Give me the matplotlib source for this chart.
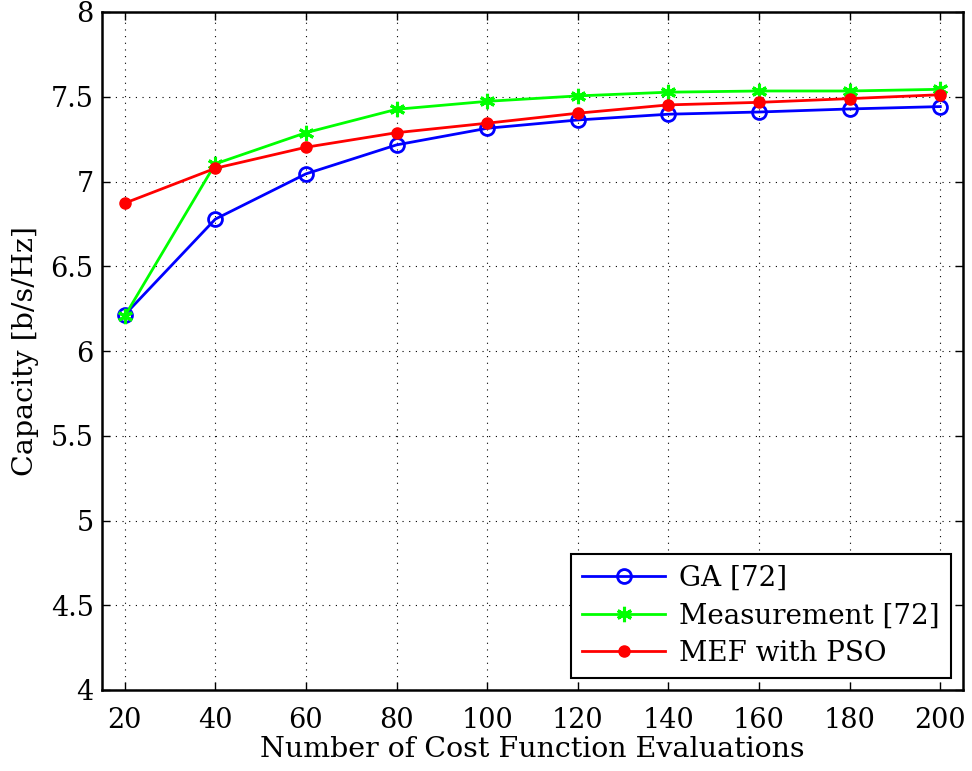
import matplotlib
matplotlib.use("Agg")
import matplotlib.pyplot as plt

evals = [20, 40, 60, 80, 100, 120, 140, 160, 180, 200]
ga = [6.213, 6.778, 7.045, 7.216, 7.314, 7.363, 7.397, 7.410, 7.428, 7.442]
measurement = [6.205, 7.104, 7.288, 7.426, 7.473, 7.505, 7.527, 7.534, 7.534, 7.544]
mef_pso = [6.872, 7.078, 7.202, 7.288, 7.344, 7.403, 7.452, 7.467, 7.489, 7.512]
xticks = [20, 40, 60, 80, 100, 120, 140, 160, 180, 200]
yticks = [4, 4.5, 5, 5.5, 6, 6.5, 7, 7.5, 8]
ytick_labels = ["4", "4.5", "5", "5.5", "6", "6.5", "7", "7.5", "8"]

plt.rcParams['font.family'] = ['DejaVu Serif']
plt.rcParams['mathtext.fontset'] = 'dejavuserif'

fig = plt.figure(figsize=(9.72, 7.71), dpi=100)
ax = fig.add_axes([102/972, 1 - 690/771, (963-102)/972, (690-12)/771])

ax.plot(evals, ga, color='#0000ff', lw=2, marker='o', ms=10, mfc='none', mec='#0000ff', mew=2, label='GA [72]')
ax.plot(evals, measurement, color='#00ff00', lw=2, marker=(6, 2, 0), ms=11, mec='#00ff00', mew=2.2, label='Measurement [72]')
ax.plot(evals, mef_pso, color='#ff0000', lw=2, marker='o', ms=8, mfc='#ff0000', mec='#ff0000', label='MEF with PSO')

ax.set_xlim(15, 205)
ax.set_ylim(4, 8)
ax.set_xticks(xticks)
ax.set_yticks(yticks)
ax.set_yticklabels(ytick_labels)
ax.tick_params(direction='in', length=6, width=1, labelsize=19.5, top=True, right=True)
ax.tick_params(axis='x', pad=12)
ax.tick_params(axis='y', pad=6)
ax.grid(True, color='black', linestyle=(0, (1, 5)), linewidth=0.8)
for s in ax.spines.values():
    s.set_linewidth(1.8)

ax.set_xlabel('Number of Cost Function Evaluations', fontsize=20.5, labelpad=2)
ax.set_ylabel('Capacity [b/s/Hz]', fontsize=20.5, labelpad=8)

leg = ax.legend(loc='lower right', fontsize=20, fancybox=False, framealpha=1, edgecolor='black',
                handlelength=3.0, borderaxespad=0.43, labelspacing=0.38, handletextpad=0.5,
                borderpad=0.4)
leg.get_frame().set_linewidth(1.5)

fig.savefig('out.png', dpi=100)
